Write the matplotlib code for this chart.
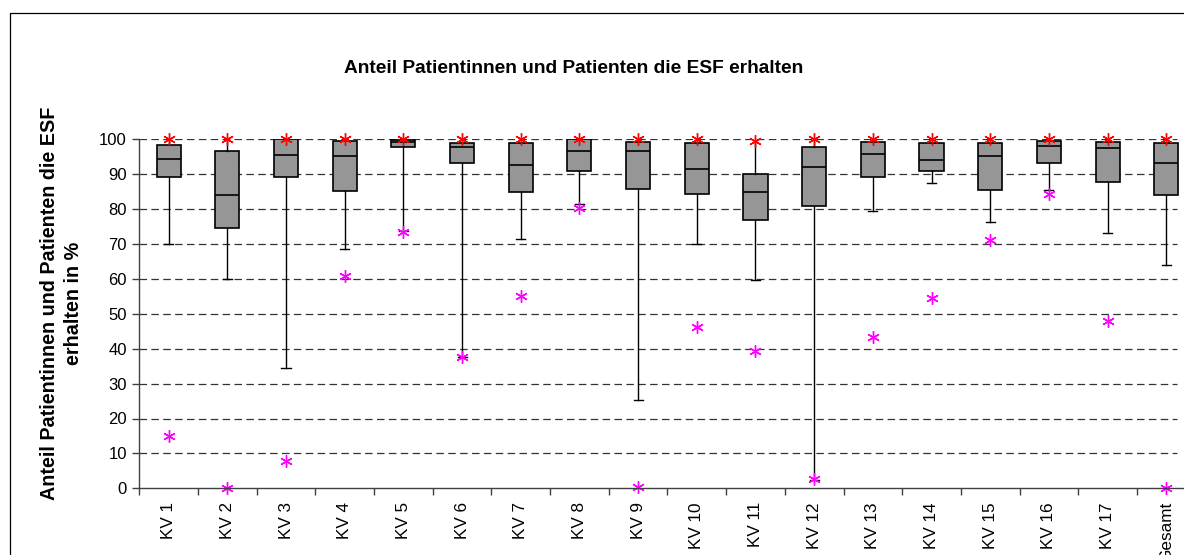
import matplotlib
matplotlib.use("Agg")
import matplotlib.pyplot as plt
from matplotlib.patches import Rectangle
from matplotlib.ticker import MultipleLocator, FixedLocator

plt.rcParams['font.family'] = ['Liberation Sans', 'DejaVu Sans']

categories = ['KV 1', 'KV 2', 'KV 3', 'KV 4', 'KV 5', 'KV 6', 'KV 7', 'KV 8', 'KV 9',
              'KV 10', 'KV 11', 'KV 12', 'KV 13', 'KV 14', 'KV 15', 'KV 16', 'KV 17', 'Gesamt']
q1 = [89.2, 74.5, 89.2, 85.3, 97.8, 93.3, 84.8, 91.0, 85.8,
      84.4, 76.8, 80.9, 89.2, 91.0, 85.4, 93.3, 87.7, 83.9]
median = [94.4, 84.1, 95.6, 95.1, 99.1, 97.9, 92.6, 96.6, 96.6,
          91.4, 84.8, 92.2, 95.8, 94.0, 95.2, 98.2, 97.4, 93.3]
q3 = [98.5, 96.7, 100.0, 99.5, 99.9, 98.8, 98.9, 100.0, 99.2,
      98.9, 90.0, 97.8, 99.2, 98.9, 98.9, 99.6, 99.2, 98.9]
whisker_low = [70.0, 60.0, 34.6, 68.7, 73.7, 37.5, 71.5, 81.5, 25.2,
               70.0, 59.8, 2.5, 79.5, 87.4, 76.2, 85.4, 73.1, 64.1]
maximum = [100, 100, 100, 100, 100, 100, 100, 100, 100,
           100, 99.5, 100, 100, 100, 100, 100, 100, 100]
minimum = [15.0, 0.0, 7.9, 60.8, 73.5, 37.5, 55.0, 80.3, 0.3,
           46.2, 39.4, 2.7, 43.3, 54.5, 71.1, 84.3, 48.0, 0.0]

title = 'Anteil Patientinnen und Patienten die ESF erhalten'
ylabel = 'Anteil Patientinnen und Patienten die ESF\nerhalten in %'

W, H = 1184, 555
fig = plt.figure(figsize=(W / 100, H / 100), dpi=100)

# outer chart frame (cropped on right/bottom)
fig.patches.append(Rectangle((10 / W, -0.1), 1.2, 1 - 13 / H + 0.1, transform=fig.transFigure,
                             fill=False, edgecolor='black', linewidth=0.9, zorder=0))

ax_left = 139.3 / W
ax_bottom = (H - 488.3) / H
ax_height = (488.3 - 139.3) / H
ax_width = (1195.6 - 139.3) / W
ax = fig.add_axes([ax_left, ax_bottom, ax_width, ax_height])

pos = list(range(len(categories)))
stats = []
for i in pos:
    stats.append(dict(med=median[i], q1=q1[i], q3=q3[i], whislo=whisker_low[i],
                      whishi=maximum[i], fliers=[], label=categories[i]))

res = ax.bxp(stats, positions=pos, widths=0.41, patch_artist=True, showfliers=False,
             capwidths=0.155,
             boxprops=dict(facecolor='#969696', edgecolor='black', linewidth=1.2),
             medianprops=dict(color='black', linewidth=1.2),
             whiskerprops=dict(color='black', linewidth=1.0),
             capprops=dict(color='black', linewidth=1.0), zorder=3)
# hide upper caps (whisker reaches the maximum marker)
for k, cap in enumerate(res['caps']):
    if k % 2 == 1:
        cap.set_visible(False)

ax.plot(pos, maximum, linestyle='none', marker=(6, 2, 0), markersize=9,
        markeredgewidth=1.0, color='#FF0000', clip_on=False, zorder=5)
ax.plot(pos, minimum, linestyle='none', marker=(6, 2, 0), markersize=9,
        markeredgewidth=1.0, color='#FF00FF', clip_on=False, zorder=5)

ax.set_ylim(0, 100)
ax.set_xlim(-0.5, len(categories) - 0.5)
ax.yaxis.set_major_locator(MultipleLocator(10))
for v in range(10, 101, 10):
    ax.axhline(v, xmin=0, xmax=(1177 - 139.3) / (1195.6 - 139.3), color='#333333',
               linewidth=0.9, linestyle=(0, (6, 3.5)), zorder=1)

ax.set_xticks(pos)
ax.set_xticklabels(categories, rotation=90, fontsize=12.3)
ax.xaxis.set_minor_locator(FixedLocator([p - 0.5 for p in pos] + [len(pos) - 0.5]))
ax.tick_params(axis='x', which='major', length=0, pad=10)
ax.tick_params(axis='x', which='minor', length=5, width=1, color='#404040', direction='out')
ax.tick_params(axis='y', which='major', length=5, width=1, color='#404040', labelsize=12, pad=4)

for s in ['top', 'right']:
    ax.spines[s].set_visible(False)
for s in ['left', 'bottom']:
    ax.spines[s].set_color('#404040')
    ax.spines[s].set_linewidth(1.0)
ax.spines['bottom'].set_zorder(6)

fig.text(573.4 / W, 1 - 68.3 / H, title, ha='center', va='center',
         fontsize=13.8, fontweight='bold')
fig.text(61.5 / W, 1 - 303 / H, ylabel, ha='center', va='center', rotation=90,
         fontsize=14.2, fontweight='bold', linespacing=1.3, multialignment='center')

fig.savefig('out.png', dpi=100)
